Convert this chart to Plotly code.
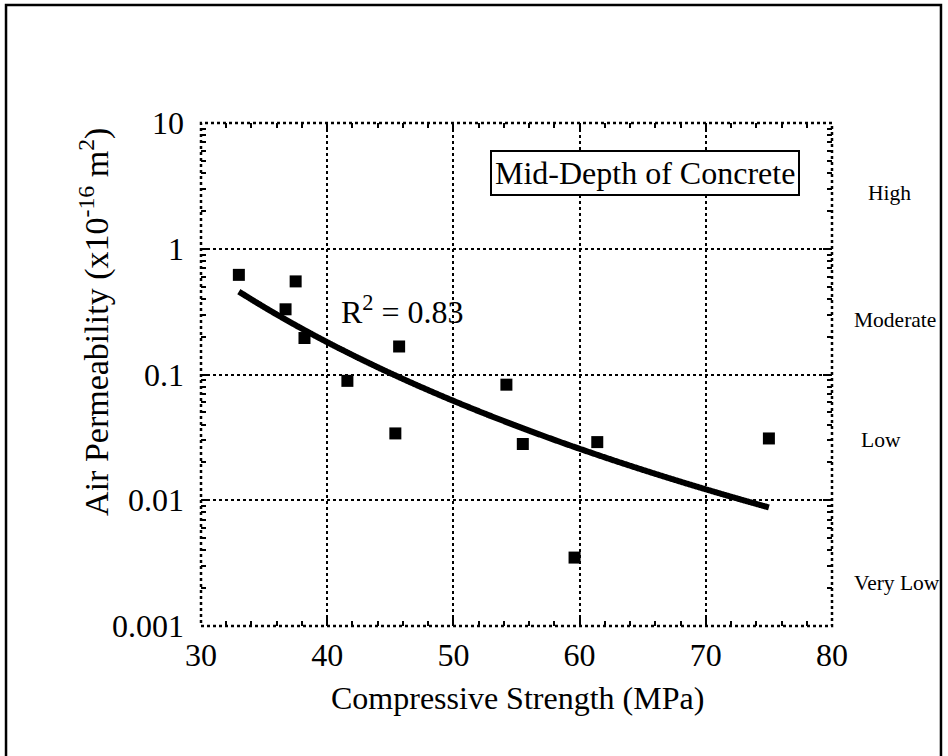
import numpy as np
import plotly.graph_objects as go

# Measured air permeability versus compressive strength (mid-depth cores)
strength_mpa = [33.0, 37.5, 36.7, 38.2, 45.7, 41.6, 45.4, 54.2, 55.5, 61.4, 59.6, 75.0]
permeability = [0.62, 0.55, 0.33, 0.195, 0.167, 0.089, 0.034, 0.083, 0.028, 0.029, 0.0035, 0.031]

y_tick_vals = [0.001, 0.01, 0.1, 1, 10]
y_tick_text = ["0.001", "0.01", "0.1", "1", "10"]
x_tick_vals = [30, 40, 50, 60, 70, 80]

class_labels = ["High", "Moderate", "Low", "Very Low"]
class_label_y = [2.8, 0.27, 0.03, 0.0022]
class_label_x = [1.054, 1.032, 1.043, 1.032]

r2_text = "R<sup>2</sup> = 0.83"
box_text = "Mid-Depth of Concrete"

# Power-law trend fitted in log-log space
lx = np.log10(strength_mpa)
ly = np.log10(permeability)
slope, intercept = np.polyfit(lx, ly, 1)
fit_x = np.linspace(min(strength_mpa), max(strength_mpa), 400)
fit_y = 10 ** (intercept + slope * np.log10(fit_x))

FONT = "Liberation Serif"
FS = 32

fig = go.Figure()
fig.add_trace(go.Scatter(
    x=fit_x, y=fit_y, mode="lines",
    line=dict(color="black", width=6, shape="spline"),
    hoverinfo="skip", showlegend=False,
))
fig.add_trace(go.Scatter(
    x=strength_mpa, y=permeability, mode="markers",
    marker=dict(symbol="square", size=12, color="black"),
    showlegend=False,
))

fig.update_xaxes(
    range=[30, 80], tickvals=x_tick_vals,
    ticks="inside", ticklen=9, tickwidth=1.5, tickcolor="black",
    mirror="allticks", showline=False, zeroline=False,
    showgrid=True, gridcolor="black", gridwidth=2, griddash="3px,3px",
    minor=dict(ticks="inside", ticklen=5, tickwidth=1.5, tickcolor="black", dtick=2, showgrid=False),
    tickfont=dict(family=FONT, size=FS, color="black"),
    ticklabelstandoff=7,
)
fig.update_yaxes(
    type="log", range=[-3, 1], tickvals=y_tick_vals, ticktext=y_tick_text,
    ticks="inside", ticklen=9, tickwidth=1.5, tickcolor="black",
    mirror="allticks", showline=False, zeroline=False,
    showgrid=True, gridcolor="black", gridwidth=2, griddash="3px,3px",
    minor=dict(ticks="inside", ticklen=5, tickwidth=1.5, tickcolor="black", dtick="D1", showgrid=False),
    tickfont=dict(family=FONT, size=FS, color="black"),
    ticklabelstandoff=16,
)

shapes = [
    # dotted plot frame
    dict(type="rect", xref="paper", yref="paper", x0=0, x1=1, y0=0, y1=1,
         line=dict(color="black", width=2.5, dash="3px,3px"), layer="above"),
    # outer figure border
    dict(type="rect", xref="paper", yref="paper", x0=-0.309, x1=1.1727, y0=-0.27, y1=1.2346,
         line=dict(color="black", width=2.5)),
]

annotations = [
    dict(text="Compressive Strength (MPa)", xref="paper", yref="paper", x=0.502, y=-0.143,
         xanchor="center", yanchor="middle", showarrow=False,
         font=dict(family=FONT, size=FS, color="black")),
    dict(text="Air Permeability (x10<sup>-16</sup> m<sup>2</sup>)", xref="paper", yref="paper",
         x=-0.17, y=0.604, textangle=-90, xanchor="center", yanchor="middle", showarrow=False,
         font=dict(family=FONT, size=34, color="black")),
    dict(text=r2_text, x=45.93, y=-0.49, xref="x", yref="y", showarrow=False,
         xanchor="center", yanchor="middle", font=dict(family=FONT, size=FS, color="black")),
    dict(text=box_text, x=65.2, y=0.605, xref="x", yref="y", showarrow=False,
         xanchor="center", yanchor="middle", bgcolor="white",
         bordercolor="black", borderwidth=2, borderpad=3,
         font=dict(family=FONT, size=FS, color="black")),
]
for lab, yv, xv in zip(class_labels, class_label_y, class_label_x):
    annotations.append(dict(text=lab, xref="paper", yref="y", x=xv, y=np.log10(yv),
                            xanchor="left", yanchor="middle", showarrow=False,
                            font=dict(family=FONT, size=21.5, color="black")))

fig.update_layout(
    width=948, height=756,
    margin=dict(l=201, r=116, t=123, b=130),
    paper_bgcolor="white", plot_bgcolor="white",
    shapes=shapes, annotations=annotations,
    font=dict(family=FONT, color="black"),
)

fig.write_html("out.html")
